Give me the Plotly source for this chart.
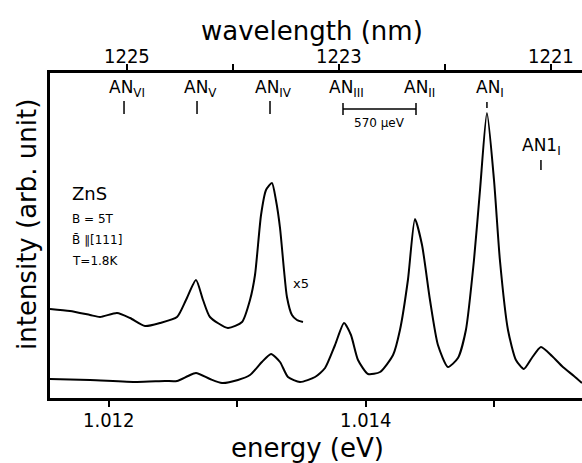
import plotly.graph_objects as go

# Photoluminescence of ZnS at B = 5 T, energy in eV, intensity in arbitrary units
energy_low = [1.011540, 1.011852, 1.012218, 1.012436, 1.012530, 1.012616, 1.012678,
              1.012787, 1.012881, 1.013005, 1.013099, 1.013192, 1.013263, 1.013333,
              1.013395, 1.013489, 1.013606, 1.013684, 1.013762, 1.013832, 1.013886,
              1.013941, 1.014019, 1.014113, 1.014214, 1.014268, 1.014330, 1.014385,
              1.014440, 1.014502, 1.014564, 1.014642, 1.014720, 1.014782, 1.014845,
              1.014892, 1.014946, 1.015001, 1.015047, 1.015110, 1.015172, 1.015234,
              1.015296, 1.015367, 1.015453, 1.015538, 1.015624, 1.015687]
intensity_low = [19, 18, 16, 17, 17, 22, 25,
                 19, 15, 18, 23, 36, 44, 36,
                 21, 16, 21, 30, 53, 75, 63,
                 38, 24, 26, 43, 68, 118, 179,
                 153, 98, 53, 31, 40, 68, 138,
                 208, 285, 218, 138, 68, 38, 29,
                 40, 51, 42, 31, 22, 15]

# Low-energy part magnified five times
energy_x5 = [1.011540, 1.011696, 1.011852, 1.011930, 1.012062, 1.012164, 1.012281,
             1.012397, 1.012530, 1.012600, 1.012678, 1.012733, 1.012787, 1.012927,
             1.013037, 1.013099, 1.013138, 1.013185, 1.013224, 1.013270, 1.013301,
             1.013333, 1.013364, 1.013387, 1.013426, 1.013465, 1.013512]
intensity_x5 = [89, 87, 83, 81, 85, 80, 72,
                75, 81, 98, 118, 98, 81, 70,
                76, 98, 123, 183, 208, 215, 198,
                170, 128, 101, 83, 78, 76]

# Line assignments
line_names = ["AN<sub>VI</sub>", "AN<sub>V</sub>", "AN<sub>IV</sub>", "AN<sub>III</sub>",
              "AN<sub>II</sub>", "AN<sub>I</sub>"]
line_energy = [1.012117, 1.012686, 1.013255, 1.013824, 1.014393, 1.014946]
satellite_name = "AN1<sub>I</sub>"
satellite_energy = 1.015367
splitting_text = "570 µeV"

energy_ticks = [1.012, 1.013, 1.014, 1.015]
energy_labels = {1.012: "1.012", 1.014: "1.014"}
wavelength_ticks = [1225, 1224, 1223, 1222, 1221]
wavelength_labels = {1225: "1225", 1223: "1223", 1221: "1221"}

sample_lines = ["B = 5T", "B\u0304 \u2225[111]", "T=1.8K"]

FONT = "DejaVu Sans"
NARROW = "Liberation Sans Narrow, DejaVu Sans Condensed, DejaVu Sans"

W, H = 582, 463
L, T, B = 50, 73, 65


def py(pix):
    """vertical pixel position -> paper fraction"""
    return 1 - (pix - T) / (H - T - B)


fig = go.Figure()
fig.add_trace(go.Scatter(x=energy_low, y=intensity_low, mode="lines",
                         line=dict(color="black", width=2, shape="spline", smoothing=0.6),
                         showlegend=False, hoverinfo="skip"))
fig.add_trace(go.Scatter(x=energy_x5, y=intensity_x5, mode="lines",
                         line=dict(color="black", width=2, shape="spline", smoothing=0.6),
                         showlegend=False, hoverinfo="skip"))
# anchors the wavelength axis
fig.add_trace(go.Scatter(x=[wavelength_ticks[0], wavelength_ticks[-1]], y=[0, 0], xaxis="x2",
                         mode="markers", marker=dict(opacity=0), showlegend=False,
                         hoverinfo="skip"))

ann = []
shapes = []
label_y = 310
for name, e in zip(line_names, line_energy):
    ann.append(dict(x=e, y=label_y, xref="x", yref="y", text=name, showarrow=False,
                    xanchor="center", yanchor="middle", xshift=3,
                    font=dict(family=FONT, size=17, color="black")))
for e in line_energy[:3]:
    shapes.append(dict(type="line", xref="x", yref="y", x0=e, x1=e, y0=284, y1=297,
                       line=dict(color="black", width=1.5)))
# splitting bar between AN_III and AN_II
e3, e2 = line_energy[3], line_energy[4]
shapes.append(dict(type="line", xref="x", yref="y", x0=e3, x1=e2, y0=289, y1=289,
                   line=dict(color="black", width=1.5)))
for e in (e3, e2):
    shapes.append(dict(type="line", xref="x", yref="y", x0=e, x1=e, y0=283, y1=295,
                       line=dict(color="black", width=1.5)))
ann.append(dict(x=(e3 + e2) / 2, y=275, xref="x", yref="y", text=splitting_text,
                showarrow=False, font=dict(family=FONT, size=12, color="black")))
# AN_I marker
shapes.append(dict(type="line", xref="x", yref="y", x0=line_energy[5], x1=line_energy[5],
                   y0=290, y1=296, line=dict(color="black", width=1.5)))
# AN1_I satellite
ann.append(dict(x=satellite_energy, y=252, xref="x", yref="y", text=satellite_name,
                showarrow=False, xshift=1, font=dict(family=FONT, size=17, color="black")))
shapes.append(dict(type="line", xref="x", yref="y", x0=satellite_energy, x1=satellite_energy,
                   y0=228, y1=238, line=dict(color="black", width=1.5)))

# tick labels of both energy and wavelength scales
for v, t in energy_labels.items():
    ann.append(dict(x=v, y=py(420), xref="x", yref="paper", text=t, showarrow=False,
                    xanchor="center", yanchor="middle",
                    font=dict(family=NARROW, size=20, color="black")))
for v, t in wavelength_labels.items():
    ann.append(dict(x=v, y=py(56), xref="x2", yref="paper", text=t, showarrow=False,
                    xanchor="center", yanchor="middle",
                    font=dict(family=NARROW, size=20, color="black")))

# sample and conditions
pix_ann = []
pix_ann.append(dict(x=70, y=194, text="ZnS", xanchor="left",
                    font=dict(family=FONT, size=18, color="black")))
for i, t in enumerate(sample_lines):
    pix_ann.append(dict(x=70, y=219 + 21 * i, text=t, xanchor="left",
                        font=dict(family=FONT, size=12, color="black")))

# axis titles
pix_ann.append(dict(x=307, y=448, text="energy (eV)",
                    font=dict(family=FONT, size=26, color="black")))
pix_ann.append(dict(x=312, y=31, text="wavelength (nm)",
                    font=dict(family=FONT, size=26, color="black")))
pix_ann.append(dict(x=27, y=225, text="intensity (arb. unit)", textangle=-90,
                    font=dict(family=FONT, size=26, color="black")))

for a in pix_ann:
    a["x"] = (a["x"] - L) / (W - L)
    a["y"] = py(a["y"])
    a.setdefault("xanchor", "center")
    a["yanchor"] = "middle"
    a.update(xref="paper", yref="paper", showarrow=False)
    ann.append(a)

ann.append(dict(x=1.013500, y=115, xref="x", yref="y", text="x5", showarrow=False,
                font=dict(family=FONT, size=13, color="black")))

fig.update_layout(
    width=W, height=H, margin=dict(l=L, r=0, t=T, b=B, pad=0),
    paper_bgcolor="white", plot_bgcolor="white",
    annotations=ann, shapes=shapes,
    xaxis=dict(range=[1.01154, 1.015687], tickvals=energy_ticks, showticklabels=False,
               ticks="outside", ticklen=6, tickwidth=1.5, tickcolor="black",
               showline=True, linewidth=3, linecolor="black", showgrid=False,
               zeroline=False),
    xaxis2=dict(range=[1225.726, 1220.708], overlaying="x", side="top", anchor="y",
                tickvals=wavelength_ticks, showticklabels=False,
                ticks="outside", ticklen=6, tickwidth=1.5, tickcolor="black",
                showline=True, linewidth=3, linecolor="black", showgrid=False,
                zeroline=False),
    yaxis=dict(range=[0, 325], showticklabels=False, ticks="", showline=True,
               linewidth=3, linecolor="black", showgrid=False, zeroline=False),
)

fig.write_html("out.html")
